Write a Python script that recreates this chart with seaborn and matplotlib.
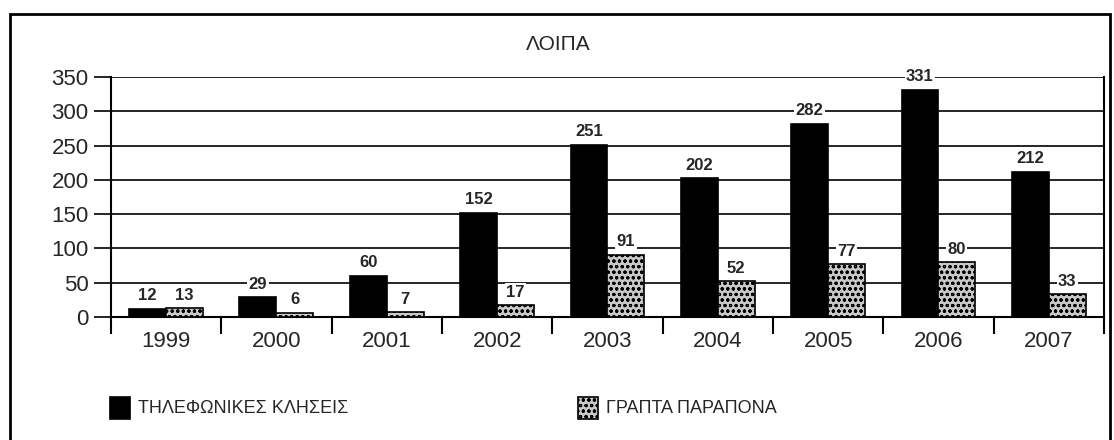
import matplotlib
matplotlib.use("Agg")
import matplotlib.pyplot as plt
import seaborn as sns
import pandas as pd
from matplotlib.patches import Rectangle

years = ["1999", "2000", "2001", "2002", "2003", "2004", "2005", "2006", "2007"]
phone_calls = [12, 29, 60, 152, 251, 202, 282, 331, 212]
written_complaints = [13, 6, 7, 17, 91, 52, 77, 80, 33]
series_names = ["ΤΗΛΕΦΩΝΙΚΕΣ ΚΛΗΣΕΙΣ", "ΓΡΑΠΤΑ ΠΑΡΑΠΟΝΑ"]
title = "ΛΟΙΠΑ"
y_ticks = [0, 50, 100, 150, 200, 250, 300, 350]

df = pd.DataFrame({
    "year": years * 2,
    "value": phone_calls + written_complaints,
    "series": [series_names[0]] * len(years) + [series_names[1]] * len(years),
})

sns.set_theme(style="white")
plt.rcParams["font.family"] = ["Liberation Sans", "DejaVu Sans"]
plt.rcParams["hatch.color"] = "#444444"
plt.rcParams["hatch.linewidth"] = 0.8

fig = plt.figure(figsize=(11.14, 4.40), dpi=100)
ax = fig.add_axes([0.0996, 0.2795, 0.8914, 0.5455])

sns.barplot(data=df, x="year", y="value", hue="series", order=years,
            hue_order=series_names, palette=["black", "white"],
            width=0.67, saturation=1, legend=False, ax=ax, zorder=3)

for i, cont in enumerate(ax.containers):
    for p in cont:
        p.set_edgecolor("black")
        p.set_linewidth(1.2)
        if i == 1:
            p.set_hatch("ooo")
            p.set_facecolor("#c8c8c8")
    texts = ax.bar_label(cont, padding=4, fontsize=12, fontweight="bold")
    for t in texts:
        t.set_bbox(dict(facecolor="white", edgecolor="none", pad=1))
        t.set_zorder(5)

ax.set_xlim(-0.5, len(years) - 0.5)
ax.set_ylim(0, 350)
ax.set_yticks(y_ticks)
ax.set_yticklabels([str(v) for v in y_ticks], fontsize=16)
ax.yaxis.grid(True, color="black", linewidth=1.2, zorder=0)
ax.set_axisbelow(True)
ax.tick_params(axis="y", direction="out", length=12, width=1.2, color="black", pad=4, left=True)
ax.set_xticks(range(len(years)))
ax.set_xticklabels(years, fontsize=16)
ax.tick_params(axis="x", which="major", length=0, pad=10)
ax.set_xticks([i - 0.5 for i in range(0, len(years) + 1)], minor=True)
ax.tick_params(axis="x", which="minor", direction="out", length=12, width=1.5, color="black", bottom=True)
ax.set_xlabel("")
ax.set_ylabel("")
for s in ax.spines.values():
    s.set_color("black")
    s.set_linewidth(1.5)
ax.spines["top"].set_visible(False)

fig.text(558 / 1114, 1 - 45 / 440, title, ha="center", va="center", fontsize=15)

# outer frame
fig.add_artist(Rectangle((10 / 1114, -0.1), 1100 / 1114, 1.1 - 14 / 440,
                         transform=fig.transFigure, fill=False,
                         edgecolor="black", linewidth=2))

# legend
lh, lw = 22 / 440, 20 / 1114
ly = 1 - 419 / 440
fig.add_artist(Rectangle((110 / 1114, ly), lw, lh, transform=fig.transFigure,
                         facecolor="black", edgecolor="black", linewidth=1.2))
fig.text(138 / 1114, ly + lh / 2, series_names[0], ha="left", va="center", fontsize=13)
fig.add_artist(Rectangle((578 / 1114, ly), lw, lh, transform=fig.transFigure,
                         facecolor="#c8c8c8", edgecolor="black", hatch="ooo", linewidth=1.2))
fig.text(606 / 1114, ly + lh / 2, series_names[1], ha="left", va="center", fontsize=13)

fig.savefig("out.png", dpi=100, facecolor="white")
